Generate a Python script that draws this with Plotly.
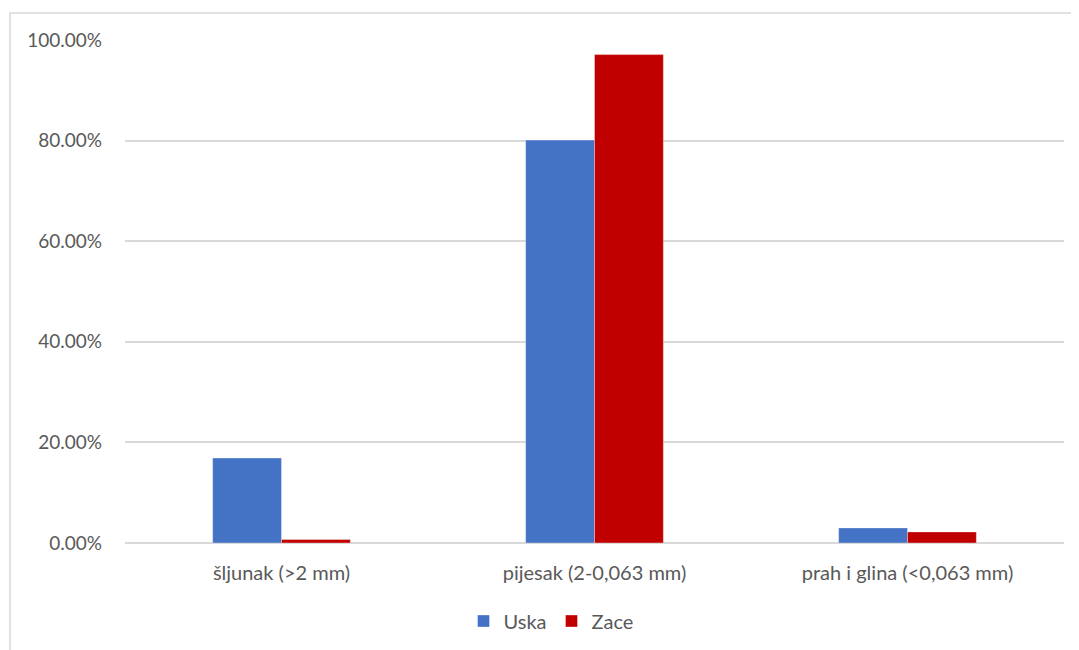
import plotly.graph_objects as go

categories = ["šljunak (>2 mm)", "pijesak (2-0,063 mm)", "prah i glina (<0,063 mm)"]
uska = [0.169, 0.801, 0.030]
zace = [0.007, 0.971, 0.022]
series_names = ["Uska", "Zace"]
colors = ["#4472C4", "#C00000"]

OFF = 8  # page body margin
W, H = 1079, 650
L, T = 125 - OFF, 40 - OFF
R = W - (1064 - OFF)
B = H - (543 - OFF)
pw = W - L - R
ph = H - T - B

fig = go.Figure()
for name, vals, c in zip(series_names, [uska, zace], colors):
    fig.add_trace(go.Bar(
        x=categories, y=vals, name=name,
        marker=dict(color=c, line=dict(color="rgba(255,255,255,0.35)", width=1)),
    ))

def px_x(p):
    return (p - OFF - L) / pw

def px_y(p):
    return (H - B - (p - OFF)) / ph

fig.add_shape(type="rect", xref="paper", yref="paper",
              x0=px_x(10), x1=px_x(1100), y0=px_y(700), y1=px_y(13),
              line=dict(color="#d9d9d9", width=1.5), fillcolor="rgba(0,0,0,0)", layer="below")

font = "Lato, 'Open Sans', sans-serif"
fig.update_layout(
    width=W, height=H,
    margin=dict(l=L, r=R, t=T, b=B, autoexpand=False),
    paper_bgcolor="white", plot_bgcolor="white",
    barmode="group", bargap=0.56, bargroupgap=0,
    font=dict(family=font, size=20, color="#595959"),
    showlegend=True,
    legend=dict(orientation="h", x=px_x(551), xanchor="center", y=px_y(621), yanchor="middle",
                font=dict(size=20, color="#595959"), itemwidth=30, traceorder="normal"),
    xaxis=dict(showgrid=False, showline=False, ticks="", ticklabelstandoff=16,
               tickfont=dict(size=20, color="#595959")),
    yaxis=dict(range=[0, 1], dtick=0.2, tick0=0, tickformat=".2%",
               showgrid=True, gridcolor="#d9d9d9", gridwidth=1.5,
               zeroline=True, zerolinecolor="#d9d9d9", zerolinewidth=1.5,
               showline=False, ticks="", ticklabelstandoff=22,
               tickfont=dict(size=19, color="#595959")),
)

fig.write_html("out.html")
